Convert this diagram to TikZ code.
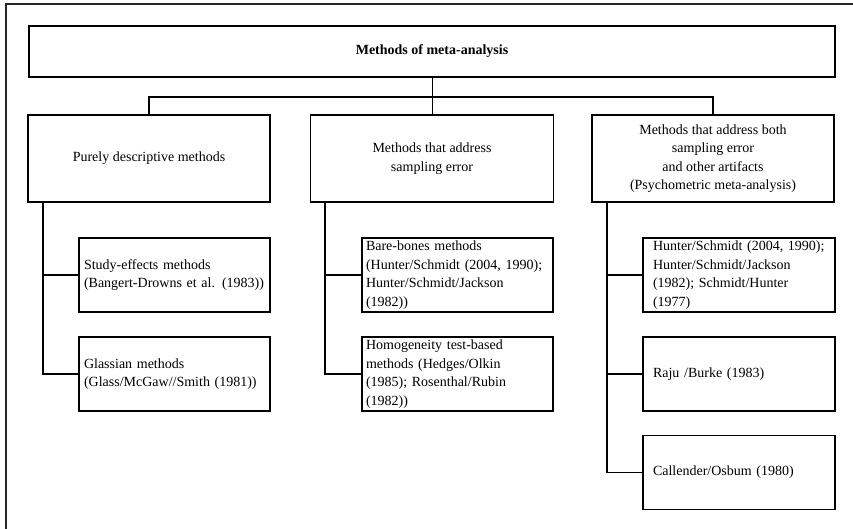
\documentclass[tikz,border=0pt]{standalone}
\usepackage{fontspec}
\setmainfont{Liberation Serif}
\begin{document}
\begin{tikzpicture}[x=1pt,y=-1pt,
  box/.style={draw,line width=1.4pt,inner sep=0pt,font=\fontsize{14}{18.5}\selectfont},
  conn/.style={line width=1.6pt}]
\useasboundingbox (0,0) rectangle (853,529);
% outer frame (cut at right and bottom)
\draw[line width=1.6pt,black!85] (6,540) -- (6,4) -- (860,4);
% title
\node[box,minimum width=806pt,minimum height=51pt,font=\fontsize{14}{18.5}\selectfont\bfseries] (title) at (432,51.5) {Methods of meta-analysis};
% level 2
\node[box,minimum width=242pt,minimum height=87pt,align=center] (d) at (149,158.5) {Purely descriptive methods};
\node[box,minimum width=243pt,minimum height=87pt,align=center] (s) at (432,158.5) {Methods that address\\sampling error};
\node[box,minimum width=242pt,minimum height=87pt,align=center] (p) at (713,158.5) {Methods that address both\\sampling error\\and other artifacts\\(Psychometric meta-analysis)};
% children
\tikzset{child/.style={box,minimum height=74pt,align=left}}
\node[child,minimum width=191pt,text width=181pt] (d1) at (174.5,275) {Study-effects methods\\(Bangert-Drowns et al. (1983))};
\node[child,minimum width=191pt,text width=181pt] (d2) at (174.5,374) {Glassian methods\\(Glass/McGaw//Smith (1981))};
\node[child,minimum width=191pt,text width=183pt] (s1) at (457.5,275) {Bare-bones methods\\(Hunter/Schmidt (2004, 1990);\\Hunter/Schmidt/Jackson\\(1982))};
\node[child,minimum width=191pt,text width=183pt] (s2) at (457.5,374) {Homogeneity test-based\\methods (Hedges/Olkin\\(1985); Rosenthal/Rubin\\(1982))};
\node[child,minimum width=192pt,text width=172pt] (p1) at (739,275) {Hunter/Schmidt (2004, 1990);\\Hunter/Schmidt/Jackson\\(1982); Schmidt/Hunter\\(1977)};
\node[child,minimum width=192pt,text width=172pt] (p2) at (739,374) {Raju /Burke (1983)};
\node[child,minimum width=192pt,text width=172pt] (p3) at (739,472.5) {Callender/Osbum (1980)};
% connectors
\coordinate (bus) at (0,97);
\draw[conn] ([xshift=0.5pt]title.south) -- ([xshift=0.5pt]s.north);
\draw[conn] (d.north) -- (d.north |- bus) -- (p.north |- bus) -- (p.north);
\draw[conn] ([xshift=-106pt]d.south) |- (d1.west);
\draw[conn] ([xshift=-106pt]d.south) |- (d2.west);
\draw[conn] ([xshift=-107pt]s.south) |- (s1.west);
\draw[conn] ([xshift=-107pt]s.south) |- (s2.west);
\draw[conn] ([xshift=-106pt]p.south) |- (p1.west);
\draw[conn] ([xshift=-106pt]p.south) |- (p2.west);
\draw[conn] ([xshift=-106pt]p.south) |- (p3.west);
\end{tikzpicture}
\end{document}
